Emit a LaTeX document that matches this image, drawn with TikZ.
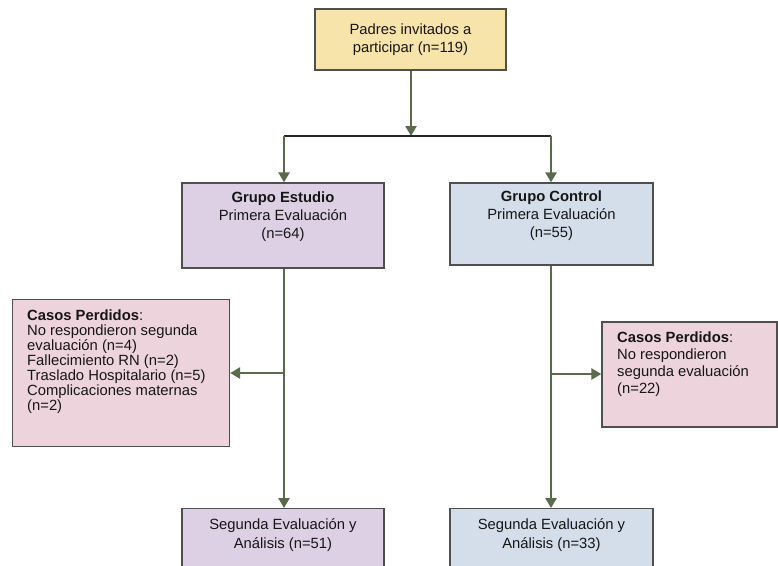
\documentclass[tikz,border=0pt]{standalone}
\usepackage{fontspec}
\setmainfont{Liberation Sans}
\usetikzlibrary{arrows.meta}
\definecolor{bordc}{HTML}{4F4F4F}
\definecolor{flowc}{HTML}{5A6A4C}
\definecolor{txtc}{HTML}{161616}
\definecolor{topfill}{HTML}{F7E4AA}
\definecolor{studyfill}{HTML}{DDD0E4}
\definecolor{ctrlfill}{HTML}{D3DEEA}
\definecolor{lostfill}{HTML}{EDD4DC}
\tikzset{
  box/.style={draw=bordc, line width=1.3pt, inner sep=0pt, text=txtc, align=center},
  mainfnt/.style={font=\fontsize{14.8}{18}\selectfont},
  lostfnt/.style={font=\fontsize{14.8}{15}\selectfont},
  flow/.style={draw=flowc, line width=2.7pt, -{Triangle[width=11pt,length=10pt]}},
  txt/.style={text=txtc, inner sep=0pt}
}
\begin{document}
\begin{tikzpicture}[x=1pt,y=-1pt]
\useasboundingbox (0,0) rectangle (778,565);
\clip (0,0) rectangle (778,565);

% top box
\node[box, mainfnt, fill=topfill, minimum width=191, minimum height=61] (top) at (410.5,39.5)
  {Padres invitados a\\participar (n=119)};

% junction
\coordinate (jm) at (411,136);
\coordinate (jl) at (284,136);
\coordinate (jr) at (551,136);

% group boxes
\node[box, fill=studyfill, minimum width=202, minimum height=85] (est) at (283,225.5) {};
\node[txt, mainfnt, align=center] (estt) at (283,217)
  {\textbf{Grupo Estudio}\\Primera Evaluación\\(n=64)};
\node[box, fill=ctrlfill, minimum width=203, minimum height=82] (ctl) at (551.5,224) {};
\node[txt, mainfnt, align=center] (ctlt) at (551.5,216)
  {\textbf{Grupo Control}\\Primera Evaluación\\(n=55)};

% lost boxes
\node[box, fill=lostfill, minimum width=217, minimum height=147.5] (lostl) at (121,373) {};
\node[txt, lostfnt, anchor=north west, align=left] (lostlt) at (27,310)
  {\textbf{Casos Perdidos}:\\No respondieron segunda\\evaluación (n=4)\\Fallecimiento RN (n=2)\\Traslado Hospitalario (n=5)\\Complicaciones maternas\\(n=2)};
\node[box, fill=lostfill, minimum width=175, minimum height=105] (lostr) at (689.5,374.5) {};
\node[txt, font=\fontsize{14.8}{17}\selectfont, anchor=north west, align=left] (lostrt) at (617,332)
  {\textbf{Casos Perdidos}:\\No respondieron\\segunda evaluación\\(n=22)};

% bottom boxes
\node[box, fill=studyfill, minimum width=202, minimum height=90, anchor=north] (botl) at (283,508) {};
\node[txt, font=\fontsize{14.8}{19.5}\selectfont, align=center] (botlt) at (283,535)
  {Segunda Evaluación y\\Análisis (n=51)};
\node[box, fill=ctrlfill, minimum width=203, minimum height=90, anchor=north] (botr) at (551.5,508) {};
\node[txt, font=\fontsize{14.8}{19.5}\selectfont, align=center] (botrt) at (551.5,535)
  {Segunda Evaluación y\\Análisis (n=33)};

% connectors
\draw[flow] (top.south -| jm) -- (jm);
\draw[line width=2pt, draw=black!85] (jl) -- (jr);
\draw[flow] (jl) -- (jl |- est.north);
\draw[flow] (jr) -- (jr |- ctl.north);

\coordinate (bl) at (284,373);
\coordinate (br) at (551,374);
\draw[flow] (est.south -| jl) -- (botl.north -| jl);
\draw[flow] (ctl.south -| jr) -- (botr.north -| jr);
\draw[flow] (bl) -- (lostl.east |- bl);
\draw[flow] (br) -- (lostr.west |- br);
\end{tikzpicture}
\end{document}
